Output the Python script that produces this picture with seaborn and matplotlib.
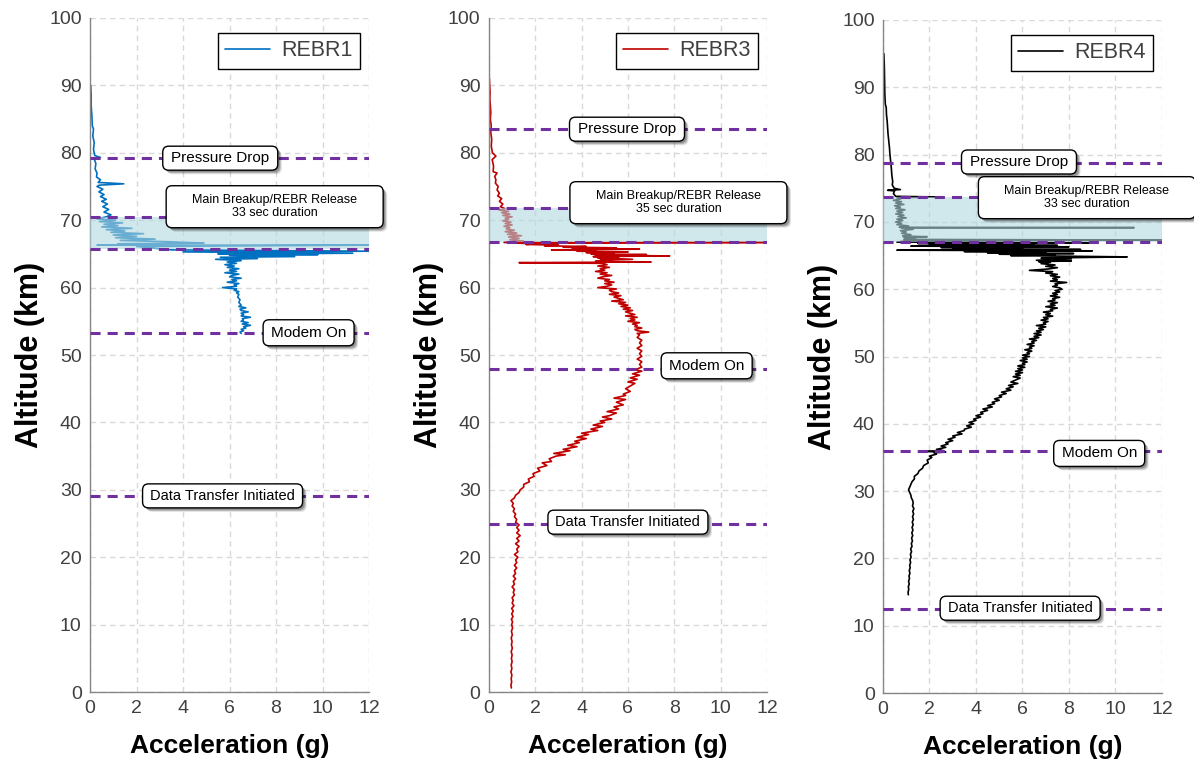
import numpy as np
import pandas as pd
import matplotlib
matplotlib.use("Agg")
import matplotlib.pyplot as plt
import matplotlib.transforms as mtransforms
from matplotlib.patches import FancyBboxPatch
import seaborn as sns

# ---------------------------------------------------------------------------
# Acceleration profiles (g) against altitude (km), listed in time order
# ---------------------------------------------------------------------------
rebr1_alt = [90.0, 88.5, 87.0, 85.5, 84.0, 83.5, 82.5, 81.5, 80.5, 79.6, 79.3, 79.1,
             78.4, 77.6, 77.0, 76.4, 76.0, 75.6, 75.4, 75.2, 75.0, 74.6, 74.2, 73.8,
             73.5, 73.1, 72.8, 72.4, 72.0, 71.6, 71.2, 70.8, 70.5,
             70.2, 70.0, 69.8, 69.6, 69.4, 69.2, 69.0, 68.8, 68.6, 68.4, 68.2, 68.0,
             67.8, 67.6, 67.4, 67.2, 67.0, 66.8, 66.6, 66.5, 66.4, 66.3, 66.3, 66.1,
             65.6, 65.4, 65.3, 65.1, 65.0, 64.9, 64.8, 64.6, 64.5, 64.3, 64.2, 64.0,
             63.8, 63.6, 63.4, 63.2, 63.0, 62.8, 62.6, 62.4, 62.2, 62.0, 61.8, 61.6,
             61.4, 61.2, 61.0, 60.8, 60.6, 60.4, 60.2, 60.0, 59.8, 59.6, 59.4, 59.2,
             59.0, 58.6, 58.2, 57.8, 57.4, 57.2, 57.0, 56.8, 56.6, 56.4, 56.2, 56.0,
             55.8, 55.6, 55.4, 55.2, 55.0, 54.8, 54.6, 54.4, 54.2, 54.0, 53.8, 53.6,
             53.4, 53.2]
rebr1_acc = [0.03, 0.05, 0.05, 0.08, 0.10, 0.15, 0.12, 0.18, 0.15, 0.20, 0.45, 0.18,
             0.25, 0.22, 0.30, 0.28, 0.45, 0.35, 1.45, 0.40, 0.30, 0.55, 0.38, 0.60,
             0.45, 0.70, 0.50, 0.75, 0.55, 0.80, 0.60, 0.90, 0.70,
             0.30, 1.10, 0.40, 1.40, 0.60, 1.20, 0.50, 1.80, 0.70, 1.50, 0.90, 2.30,
             1.00, 2.00, 1.10, 2.80, 1.30, 3.40, 4.90, 1.20, 2.50, 0.30, 12.0, 2.00,
             3.50, 12.0, 4.00, 11.3, 5.50, 9.80, 6.00, 8.80, 5.60, 7.20, 5.40, 6.50,
             5.90, 6.30, 5.80, 6.20, 5.90, 6.40, 6.00, 6.30, 5.80, 6.40, 6.10, 6.00,
             6.50, 6.10, 6.30, 5.90, 6.40, 6.20, 6.30, 5.70, 6.30, 6.20, 6.40, 6.30,
             6.40, 6.35, 6.45, 6.40, 6.50, 6.40, 6.70, 6.45, 6.50, 6.80, 6.50, 6.60,
             6.50, 6.90, 6.55, 6.60, 6.50, 6.80, 6.55, 6.90, 6.60, 6.70, 6.50, 6.60,
             6.45, 6.50]

rebr3_alt = [91.0, 90.0, 89.0, 88.0, 87.0, 86.0, 85.0, 84.0, 83.0, 82.0, 81.0, 80.0,
             79.5, 79.0, 78.0, 77.2, 77.0, 76.5, 76.0, 75.5, 75.0, 74.5, 74.0, 73.6,
             73.2, 72.8, 72.4, 72.0,
             71.7, 71.5, 71.3, 71.1, 70.9, 70.7, 70.5, 70.3, 70.1, 69.9, 69.7, 69.5,
             69.3, 69.1, 68.9, 68.7, 68.5, 68.3, 68.1, 67.9, 67.7, 67.5, 67.3, 67.1,
             66.9, 66.75, 66.7, 66.7,
             66.6, 66.5, 66.4, 66.3, 66.2, 66.1, 66.0, 65.9, 65.8, 65.7, 65.6, 65.5,
             65.4, 65.3, 65.2, 65.1, 65.0, 64.9, 64.8, 64.7, 64.6, 64.5, 64.4, 64.2,
             64.1, 64.0, 63.9, 63.8, 63.7, 63.6, 63.4, 63.2, 63.0, 62.8, 62.6, 62.4,
             62.2, 62.0, 61.8, 61.6, 61.4, 61.2, 61.0, 60.8, 60.6, 60.4, 60.2, 60.0,
             59.8, 59.6, 59.4, 59.2, 59.0, 58.8, 58.6, 58.4, 58.2, 58.0, 57.8, 57.6,
             57.4, 57.2, 57.0, 56.8, 56.6, 56.4, 56.2, 56.0, 55.8, 55.6, 55.4, 55.2,
             55.0, 54.8, 54.6, 54.4, 54.2, 54.0, 53.8, 53.6, 53.4, 53.2, 53.0, 52.6,
             52.2, 51.8, 51.4, 51.0, 50.6, 50.2, 49.8, 49.4, 49.0, 48.6, 48.2, 47.8,
             47.6, 47.2, 47.0, 46.6, 46.4, 46.0, 45.8, 45.4, 45.0, 44.6, 44.2, 44.0,
             43.6, 43.4, 43.0, 42.6, 42.3, 42.0, 41.6, 41.4, 41.0, 40.8, 40.5, 40.2,
             40.0, 39.6, 39.4, 39.0, 38.8, 38.4, 38.2, 37.8, 37.6, 37.2, 37.0, 36.6,
             36.4, 36.0, 35.8, 35.4, 35.2, 35.0, 34.6, 34.2, 34.0, 33.6, 33.2, 32.8,
             32.4, 32.0, 31.6, 31.2, 30.8, 30.4, 30.0, 29.6, 29.2, 28.8, 28.4, 28.0,
             27.6, 27.2, 26.8, 26.4, 26.0, 25.6, 25.2, 24.8, 24.4, 24.0, 23.6, 23.2,
             22.8, 22.4, 22.0, 21.6, 21.2, 20.8, 20.4, 20.0, 19.6, 19.2, 18.8, 18.4,
             18.0, 17.6, 17.2, 16.8, 16.4, 16.0, 15.6, 15.2, 14.8, 14.4, 14.0, 13.6,
             13.2, 12.8, 12.4, 12.0, 11.6, 11.2, 10.8, 10.4, 10.0, 9.5, 9.0, 8.5,
             8.0, 7.5, 7.0, 6.5, 6.0, 5.5, 5.0, 4.5, 4.0, 3.5, 3.0, 2.5,
             2.0, 1.5, 1.0, 0.6]
rebr3_acc = [0.02, 0.03, 0.05, 0.04, 0.06, 0.08, 0.06, 0.10, 0.08, 0.12, 0.10, 0.15,
             0.30, 0.14, 0.20, 0.18, 0.35, 0.25, 0.30, 0.28, 0.40, 0.35, 0.45, 0.38,
             0.55, 0.45, 0.60, 0.50,
             0.70, 0.45, 0.85, 0.55, 0.90, 0.60, 1.00, 0.70, 0.85, 0.60, 0.95, 0.70,
             1.00, 0.65, 0.90, 0.75, 1.10, 0.70, 1.20, 0.80, 1.40, 0.85, 1.30, 0.90,
             1.50, 0.70, 0.65, 12.0,
             1.20, 2.00, 1.60, 3.00, 2.40, 4.20, 3.20, 5.50, 3.60, 6.50, 2.70, 4.60,
             3.80, 6.00, 4.20, 5.40, 4.40, 6.80, 4.60, 7.80, 4.50, 5.60, 4.70, 6.20,
             4.80, 5.30, 4.60, 7.00, 1.30, 4.90, 5.10, 4.70, 5.20, 4.80, 5.00, 4.60,
             5.10, 4.80, 5.30, 4.90, 4.70, 5.20, 5.00, 5.40, 5.00, 5.30, 5.10, 4.70,
             5.50, 5.20, 5.30, 5.60, 5.20, 5.70, 5.40, 5.60, 5.80, 5.30, 5.90, 5.60,
             6.00, 5.70, 6.10, 5.80, 6.20, 5.90, 6.10, 6.30, 5.90, 6.40, 6.10, 6.30,
             6.00, 6.50, 6.20, 6.40, 6.30, 6.60, 6.30, 6.40, 6.90, 6.40, 6.50, 6.40,
             6.60, 6.50, 6.60, 6.40, 6.60, 6.50, 6.60, 6.40, 6.60, 6.50, 6.60, 6.30,
             6.60, 6.20, 6.50, 6.10, 6.40, 6.00, 6.30, 6.10, 5.90, 6.10, 5.80, 5.90,
             5.40, 5.90, 5.50, 5.80, 5.40, 5.60, 5.10, 5.50, 5.20, 4.90, 5.30, 4.80,
             5.00, 4.50, 4.90, 4.40, 4.70, 4.00, 4.30, 3.80, 4.20, 3.70, 3.90, 3.40,
             3.80, 3.20, 3.50, 2.80, 3.30, 2.90, 2.60, 2.70, 2.30, 2.50, 2.10, 2.20,
             1.90, 1.95, 1.70, 1.75, 1.50, 1.50, 1.35, 1.30, 1.15, 1.10, 0.95, 1.05,
             1.00, 1.10, 1.05, 1.15, 1.10, 1.20, 1.15, 1.30, 1.20, 1.30, 1.20, 1.35,
             1.20, 1.30, 1.15, 1.30, 1.20, 1.25, 1.10, 1.25, 1.15, 1.20, 1.10, 1.20,
             1.10, 1.15, 1.05, 1.15, 1.05, 1.10, 1.00, 1.10, 1.05, 1.10, 1.00, 1.05,
             1.00, 1.08, 0.98, 1.05, 0.98, 1.04, 0.97, 1.02, 0.98, 1.02, 0.97, 1.01,
             0.96, 1.00, 0.97, 1.01, 0.96, 1.00, 0.97, 1.00, 0.96, 0.99, 0.95, 0.99,
             0.96, 0.98, 0.95, 0.97]

rebr4_alt = [95.0, 93.0, 91.0, 89.0, 87.5, 87.0, 86.0, 85.0, 84.0, 83.0, 82.0, 81.0,
             80.0, 79.0, 78.0, 77.0, 76.0, 75.5, 75.0, 74.8, 74.7, 74.6, 74.2, 73.8,
             73.7, 73.6,
             73.4, 73.2, 73.0, 72.8, 72.6, 72.4, 72.2, 72.0, 71.8, 71.6, 71.4, 71.2,
             71.0, 70.8, 70.6, 70.4, 70.2, 70.0, 69.8, 69.6, 69.4, 69.2, 69.15, 69.1,
             68.9, 68.7, 68.5, 68.3, 68.1, 67.9, 67.8, 67.7, 67.5, 67.4, 67.3, 67.2,
             67.0, 66.9, 66.8, 66.7, 66.6, 66.5, 66.4, 66.3, 66.2, 66.1, 66.0, 65.9,
             65.8, 65.7, 65.6, 65.5, 65.4, 65.3, 65.2, 65.1, 65.0, 64.9, 64.8, 64.7,
             64.6, 64.5, 64.3, 64.2, 64.1,
             64.0, 63.8, 63.6, 63.4, 63.2, 63.0, 62.8, 62.6, 62.4, 62.2, 62.0, 61.8,
             61.6, 61.4, 61.2, 61.0, 60.8, 60.6, 60.4, 60.2, 60.0, 59.8, 59.6, 59.4,
             59.2, 59.0, 58.8, 58.6, 58.4, 58.2, 58.0, 57.8, 57.6, 57.4, 57.2, 57.0,
             56.8, 56.6, 56.4, 56.2, 56.0, 55.8, 55.6, 55.4, 55.2, 55.0, 54.8, 54.6,
             54.4, 54.2, 54.0, 53.8, 53.6, 53.4, 53.2, 53.0, 52.8, 52.6, 52.4, 52.2,
             52.0, 51.8, 51.6, 51.4, 51.2, 51.0, 50.8, 50.6, 50.4, 50.2, 50.0, 49.8,
             49.6, 49.4, 49.2, 49.0, 48.8, 48.6, 48.4, 48.2, 48.0, 47.8, 47.6, 47.4,
             47.2, 47.0, 46.8, 46.5, 46.2, 46.0, 45.7, 45.5, 45.2, 45.0, 44.7, 44.5,
             44.2, 44.0, 43.7, 43.5, 43.2, 43.0, 42.7, 42.5, 42.2, 42.0, 41.7, 41.5,
             41.2, 41.0, 40.7, 40.5, 40.2, 40.0, 39.7, 39.5, 39.2, 39.0, 38.7, 38.5,
             38.2, 38.0, 37.7, 37.5, 37.2, 37.0, 36.7, 36.5, 36.2, 36.0, 35.9, 35.8,
             35.7, 35.5, 35.2, 35.0, 34.6, 34.2, 33.8, 33.4, 33.0, 32.6, 32.2, 31.8,
             31.4, 31.0, 30.6, 30.2, 29.8, 29.4, 29.0, 28.6, 28.2, 27.8, 27.4, 27.0,
             26.6, 26.2, 25.8, 25.4, 25.0, 24.6, 24.2, 23.8, 23.4, 23.0, 22.6, 22.2,
             21.8, 21.4, 21.0, 20.6, 20.2, 19.8, 19.4, 19.0, 18.6, 18.2, 17.8, 17.4,
             17.0, 16.6, 16.2, 15.8, 15.4, 15.0, 14.6]
rebr4_acc = [0.04, 0.06, 0.07, 0.08, 0.10, 0.14, 0.15, 0.18, 0.20, 0.22, 0.25, 0.28,
             0.30, 0.33, 0.36, 0.38, 0.42, 0.40, 0.48, 0.75, 0.20, 0.50, 0.45, 0.55,
             2.40, 0.60,
             0.75, 0.45, 0.80, 0.55, 0.90, 0.50, 0.75, 0.55, 0.95, 0.60, 0.85, 0.55,
             0.90, 0.65, 1.00, 0.60, 0.85, 0.55, 0.80, 0.60, 1.10, 0.70, 10.8, 0.80,
             1.30, 0.75, 1.00, 0.80, 1.20, 0.85, 1.90, 0.90, 1.40, 0.90, 12.0, 1.00,
             0.60, 8.90, 1.50, 6.50, 2.00, 7.50, 1.20, 8.00, 2.50, 6.00, 3.00, 8.50,
             0.60, 9.00, 3.50, 7.00, 4.50, 8.20, 5.00, 7.40, 5.50, 8.00, 10.5, 8.30,
             6.80, 8.10, 6.60, 8.10, 6.70,
             7.20, 6.80, 7.40, 7.00, 7.50, 7.10, 6.30, 7.30, 7.00, 7.50, 7.20, 7.60,
             7.30, 7.50, 7.20, 7.90, 7.40, 7.50, 7.30, 7.60, 7.70, 7.40, 7.60, 7.30,
             7.50, 7.20, 7.60, 7.30, 7.40, 7.10, 7.50, 7.20, 7.40, 7.00, 7.50, 7.20,
             7.30, 6.90, 7.20, 7.00, 7.30, 6.90, 7.10, 6.80, 7.10, 6.90, 7.00, 6.60,
             7.00, 6.70, 6.90, 6.60, 6.80, 6.50, 6.80, 6.50, 6.70, 6.30, 6.60, 6.40,
             6.50, 6.20, 6.50, 6.30, 6.40, 6.10, 6.40, 6.20, 6.30, 6.00, 6.30, 6.00,
             6.20, 5.90, 6.20, 6.00, 6.10, 5.80, 6.10, 5.80, 6.00, 5.70, 6.00, 5.70,
             5.90, 5.60, 5.90, 5.70, 5.50, 5.80, 5.40, 5.60, 5.30, 5.50, 5.10, 5.30,
             5.00, 5.10, 4.80, 5.00, 4.70, 4.80, 4.50, 4.70, 4.30, 4.50, 4.20, 4.30,
             4.00, 4.20, 3.90, 4.00, 3.70, 3.90, 3.60, 3.80, 3.50, 3.50, 3.20, 3.40,
             3.00, 3.10, 2.80, 3.00, 2.70, 2.80, 2.50, 2.70, 2.30, 2.60, 1.70, 2.70,
             2.20, 2.30, 2.00, 2.10, 1.90, 1.95, 1.75, 1.70, 1.55, 1.50, 1.35, 1.35,
             1.25, 1.20, 1.15, 1.10, 1.15, 1.20, 1.22, 1.28, 1.30, 1.27, 1.33, 1.28,
             1.32, 1.27, 1.31, 1.26, 1.30, 1.25, 1.29, 1.24, 1.28, 1.23, 1.27, 1.22,
             1.25, 1.19, 1.23, 1.18, 1.21, 1.16, 1.19, 1.15, 1.17, 1.13, 1.16, 1.12,
             1.14, 1.10, 1.13, 1.09, 1.11, 1.08, 1.09]

# Event altitudes (km): pressure drop, breakup band top/bottom, modem on, data transfer
series_names = ["REBR1", "REBR3", "REBR4"]
pressure_drop = [79.3, 83.5, 78.8]
breakup_top = [70.5, 71.8, 73.7]
breakup_bottom = [65.8, 66.8, 67.0]
modem_on = [53.2, 47.9, 36.0]
data_transfer = [29.1, 24.9, 12.5]
breakup_seconds = [33, 35, 33]

# Callout anchor points (acceleration, altitude) per panel
pressure_pos = [(5.6, 79.2), (5.96, 83.5), (5.85, 78.9)]
breakup_pos = [(7.94, 72.0), (8.18, 72.6), (8.77, 73.6)]
modem_pos = [(9.4, 53.3), (9.4, 48.4), (9.3, 35.6)]
transfer_pos = [(5.7, 29.1), (6.0, 25.2), (5.9, 12.6)]

x_ticks = [0, 2, 4, 6, 8, 10, 12]
y_ticks = [0, 10, 20, 30, 40, 50, 60, 70, 80, 90, 100]

traces = [(rebr1_acc, rebr1_alt), (rebr3_acc, rebr3_alt), (rebr4_acc, rebr4_alt)]
colors = ["#0070C0", "#C00000", "#000000"]

# ---------------------------------------------------------------------------
sns.set_style("white")
plt.rcParams["font.family"] = ["Liberation Sans", "DejaVu Sans"]

DPI = 100
fig = plt.figure(figsize=(11.94, 7.72), dpi=DPI)

# axes rectangles in figure fraction
axes_rects = [
    (0.0754, 0.1036, 0.2337, 0.8731),
    (0.4095, 0.1036, 0.2328, 0.8731),
    (0.7395, 0.1023, 0.2337, 0.8718),
]

EVENT_COLOR = "#7030A0"
BAND_COLOR = "#B1D8DF"
TICK_COLOR = "#404040"
SPINE_COLOR = "#868686"


def callout(ax, x, y, text, w_px, h_px, fs):
    """Rounded white label box with a soft drop shadow, centred on (x, y)."""
    base = fig.dpi_scale_trans + mtransforms.ScaledTranslation(x, y, ax.transData)
    w, h = w_px / DPI, h_px / DPI
    r = 6 / DPI
    style = f"round,pad=0,rounding_size={r}"
    for k, a in ((4, 0.12), (3, 0.18), (2, 0.22)):
        sh = FancyBboxPatch((-w / 2 + k / DPI, -h / 2 - k / DPI), w, h, boxstyle=style,
                            transform=base, fc="black", ec="none", alpha=a,
                            clip_on=False, zorder=6)
        ax.add_artist(sh)
    box = FancyBboxPatch((-w / 2, -h / 2), w, h, boxstyle=style, transform=base,
                         fc="white", ec="black", lw=1.0, clip_on=False, zorder=7)
    ax.add_artist(box)
    ax.text(x, y, text, ha="center", va="center", fontsize=fs, color="black",
            zorder=8, clip_on=False, linespacing=1.15)


for i, rect in enumerate(axes_rects):
    ax = fig.add_axes(rect)
    acc, alt = traces[i]
    df = pd.DataFrame({"Acceleration": acc, "Altitude": alt})
    sns.lineplot(data=df, x="Acceleration", y="Altitude", sort=False, estimator=None,
                 color=colors[i], lw=1.2, ax=ax, label=series_names[i], zorder=2)

    ax.set_xlim(0, 12)
    ax.set_ylim(0, 100)
    ax.set_xticks(x_ticks)
    ax.set_yticks(y_ticks)
    ax.grid(True, color="#D9D9D9", lw=1.0, linestyle=(0, (4, 3)))
    ax.set_axisbelow(True)

    # breakup interval band
    ax.axhspan(breakup_bottom[i], breakup_top[i], color=BAND_COLOR, alpha=0.6,
               lw=0, zorder=3)
    for yv in (pressure_drop[i], breakup_top[i], breakup_bottom[i], modem_on[i],
               data_transfer[i]):
        ax.axhline(yv, color=EVENT_COLOR, lw=2.2, linestyle=(0, (3.3, 2.3)), zorder=4)

    callout(ax, *pressure_pos[i], "Pressure Drop", 115, 24, 11)
    callout(ax, *breakup_pos[i],
            f"Main Breakup/REBR Release\n{breakup_seconds[i]} sec duration", 217, 42, 9)
    callout(ax, *modem_pos[i], "Modem On", 91, 26, 11)
    callout(ax, *transfer_pos[i], "Data Transfer Initiated", 160, 24, 10.5)

    for side in ("top", "right"):
        ax.spines[side].set_visible(False)
    for side in ("left", "bottom"):
        ax.spines[side].set_color(SPINE_COLOR)
        ax.spines[side].set_linewidth(1.0)
    ax.tick_params(axis="both", which="major", direction="inout", length=6, width=1,
                   color=SPINE_COLOR, labelcolor=TICK_COLOR, labelsize=14, pad=3)

    ax.set_xlabel("Acceleration (g)", fontsize=19, fontweight="bold", color="black",
                  labelpad=12)
    ax.set_ylabel("Altitude (km)", fontsize=22, fontweight="bold", color="black",
                  labelpad=3)

    leg = ax.legend(loc="upper right", bbox_to_anchor=(0.968, 0.978), borderaxespad=0,
                    fancybox=False, framealpha=1, edgecolor="black", fontsize=15.5,
                    handlelength=2.1, borderpad=0.35, handletextpad=0.5)
    leg.get_frame().set_linewidth(1.0)
    for t in leg.get_texts():
        t.set_color(TICK_COLOR)
    leg.set_zorder(10)

fig.savefig("out.png", dpi=DPI)
